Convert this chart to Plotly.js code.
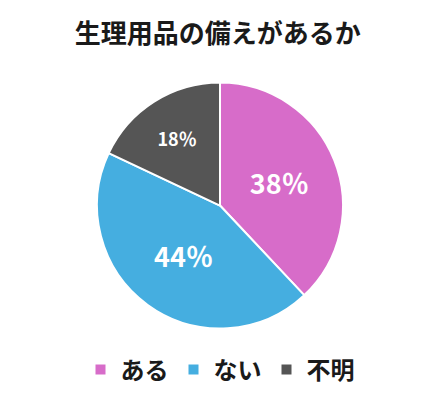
<!DOCTYPE html>
<html><head><meta charset="utf-8">
<script src="https://cdn.plot.ly/plotly-3.0.1.min.js"></script>
<style>html,body{margin:0;padding:0;background:#fff;}#chart{width:440px;height:403px;}</style>
</head><body><div id="chart"></div>
<script>
const categories = ["ある", "ない", "不明"];
const values = [38, 44, 18];
const labelsText = ["38％", "44％", "18％"];
const colors = ["#D76CC9", "#45AEE0", "#555555"];

const trace = {
  type: "pie",
  labels: categories,
  values: values,
  text: labelsText,
  textinfo: "text",
  textposition: "inside",
  insidetextorientation: "horizontal",
  textfont: {family: "Noto Sans CJK JP", color: "#ffffff", size: [27, 27, 18], weight: "bold"},
  sort: false,
  direction: "clockwise",
  rotation: 0,
  marker: {colors: colors, line: {color: "#ffffff", width: 2}},
  domain: {x: [0.2205, 0.7795], y: [0.183, 0.797]},
  hoverinfo: "none"
};

const layout = {
  width: 440, height: 403,
  margin: {l: 0, r: 0, t: 0, b: 0},
  paper_bgcolor: "#ffffff",
  title: {text: "<b>生理用品の備えがあるか</b>", x: 0.495, xanchor: "center", y: 0.916, yanchor: "middle",
          font: {family: "Noto Sans CJK JP", size: 26, color: "#1a1a1a"}},
  showlegend: true,
  legend: {orientation: "h", x: 0.5, xanchor: "center", y: 0.082, yanchor: "middle",
           font: {family: "Noto Sans CJK JP", size: 24, color: "#1a1a1a", weight: "bold"},
           itemwidth: 30, traceorder: "normal"}
};

Plotly.newPlot("chart", [trace], layout, {displayModeBar: false, staticPlot: true});
</script></body></html>
